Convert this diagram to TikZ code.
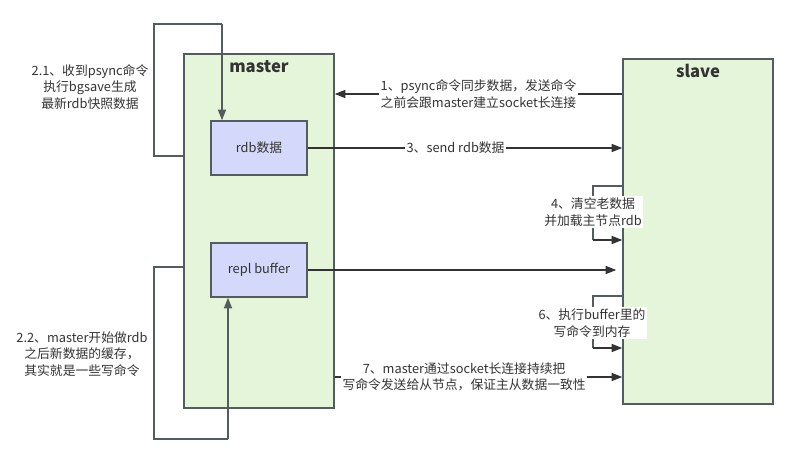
\documentclass[tikz,border=0pt]{standalone}
\usepackage{fontspec}
\setmainfont{Noto Sans CJK SC}
\usepackage{tikz}
\usetikzlibrary{arrows.meta}
\tikzset{every picture/.style={line width=1.1pt}}
\definecolor{boxgreen}{HTML}{E4F5DA}
\definecolor{boxblue}{HTML}{D4D8FA}
\definecolor{edgegray}{HTML}{555C60}
\definecolor{txtgray}{HTML}{333333}
\tikzset{
  outer/.style={draw=edgegray,fill=boxgreen,inner sep=0pt,minimum width=112.5pt},
  inner/.style={draw=edgegray,fill=boxblue,inner sep=0pt,minimum width=72pt,minimum height=40.5pt,text=txtgray,font=\fontsize{9.6}{11}\selectfont},
  arr/.style={draw=txtgray,-{Triangle[length=8pt,width=6pt]}},
  lbl/.style={fill=white,inner sep=1pt,text=txtgray,align=center,font=\fontsize{9.6}{12.4}\selectfont},
  plain/.style={inner sep=0pt,text=txtgray,align=center,font=\fontsize{9.6}{12.4}\selectfont},
}

\begin{document}
\begin{tikzpicture}[x=0.75pt,y=0.75pt,yscale=-1,xscale=1]
\useasboundingbox (0,0) rectangle (797,464);
% boxes
\node[outer,minimum height=265.5pt] (master) at (259,231) {};
\node[outer,minimum height=258.75pt] (slave) at (698,231.5) {};
\node[inner] (rdb) at (259,148) {rdb数据};
\node[inner] (repl) at (259,270) {repl buffer};
\node[text=txtgray,font=\fontsize{12.5}{14}\selectfont\bfseries] (mtitle) at (259,67) {master};
\node[text=txtgray,font=\fontsize{12.5}{14}\selectfont\bfseries] (stitle) at (698,71) {slave};

% 2.1 / 2.2 loops on the master side
\draw[draw=edgegray] (master.west |- 0,156) -- (154,156) -- (154,24) -- (222,24);
\draw[arr,draw=edgegray] (222,24) -- (rdb.north -| 222,0);
\draw[draw=edgegray] (master.west |- 0,267) -- (154,267) -- (154,439) -- (228,439);
\draw[arr,draw=edgegray] (228,439) -- (repl.south -| 228,0);
\node[plain] (t21) at (90,87) {2.1、收到psync命令\\执行bgsave生成\\最新rdb快照数据};
\node[plain] (t22) at (82,354) {2.2、master开始做rdb\\之后新数据的缓存，\\其实就是一些写命令};

% master <-> slave
\draw[arr] (slave.west |- 0,94) -- (master.east |- 0,94) node[lbl,midway] (t1) {1、psync命令同步数据，发送命令\\之前会跟master建立socket长连接};
\draw[arr] (rdb.east) -- (slave.west |- rdb.east) node[lbl,pos=0.47] (t3) {3、send rdb数据};
\draw[arr,shorten >=4.5pt] (repl.east) -- (slave.west |- repl.east);
\draw[arr] (master.east |- 0,377) -- (slave.west |- 0,377) node[lbl,pos=0.45] (t7) {7、master通过socket长连接持续把\\写命令发送给从节点，保证主从数据一致性};

% slave side loops
\draw[draw=edgegray] (slave.west |- 0,186) -- (593,186) -- (593,240);
\draw[arr] (593,240) -- (slave.west |- 0,240);
\node[lbl] (t4) at (593,212) {4、清空老数据\\并加载主节点rdb};
\draw[draw=edgegray] (slave.west |- 0,296) -- (593,296) -- (593,348);
\draw[arr] (593,348) -- (slave.west |- 0,348);
\node[lbl] (t6) at (592,323) {6、执行buffer里的\\写命令到内存};
\end{tikzpicture}
\end{document}
